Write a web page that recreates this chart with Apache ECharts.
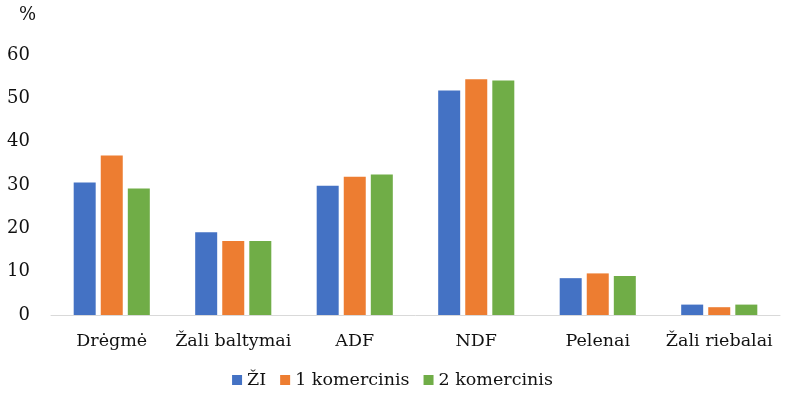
<!DOCTYPE html>
<html>
<head>
<meta charset="utf-8">
<script src="https://cdn.jsdelivr.net/npm/echarts@6/dist/echarts.min.js"></script>
<style>
  html, body { margin: 0; padding: 0; background: #fff; }
  #chart { width: 785px; height: 393px; }
</style>
</head>
<body>
<div id="chart"></div>
<script>
// categories and values
const categories = ["Drėgmė", "Žali baltymai", "ADF", "NDF", "Pelenai", "Žali riebalai"];
const seriesNames = ["ŽI", "1 komercinis", "2 komercinis"];
const ziValues = [30.6, 19.1, 29.8, 51.8, 8.5, 2.4];
const kom1Values = [36.8, 17.1, 31.9, 54.4, 9.6, 1.8];
const kom2Values = [29.2, 17.1, 32.4, 54.1, 9.0, 2.4];
const colors = ["#4472C4", "#ED7D31", "#70AD47"];

const font = "DejaVu Serif";
const chart = echarts.init(document.getElementById("chart"), null, { renderer: "canvas" });

const makeBar = (name, data, color) => ({
  name,
  type: "bar",
  data,
  barWidth: 22,
  barGap: "23%",
  itemStyle: { color },
});

chart.setOption({
  animation: false,
  title: {
    text: "%",
    left: 14,
    top: 1,
    textStyle: { fontFamily: font, fontSize: 18, fontWeight: "normal", color: "#111" },
  },
  legend: {
    data: seriesNames,
    bottom: -1,
    left: "center",
    itemWidth: 10,
    itemHeight: 10,
    itemGap: 14,
    icon: "rect",
    textStyle: { fontFamily: font, fontSize: 17.5, color: "#111" },
  },
  grid: { left: 51, right: 5, top: 55, bottom: 78 },
  xAxis: {
    type: "category",
    data: categories,
    axisLine: { lineStyle: { color: "#d9d9d9", width: 1 } },
    axisTick: { show: false },
    axisLabel: { interval: 0, fontFamily: font, fontSize: 17.5, color: "#111", margin: 17 },
  },
  yAxis: {
    type: "value",
    min: 0,
    max: 60,
    interval: 10,
    axisLine: { show: false },
    axisTick: { show: false },
    splitLine: { show: false },
    axisLabel: { fontFamily: font, fontSize: 18, color: "#111", margin: 21 },
  },
  series: [
    makeBar(seriesNames[0], ziValues, colors[0]),
    makeBar(seriesNames[1], kom1Values, colors[1]),
    makeBar(seriesNames[2], kom2Values, colors[2]),
  ],
});
</script>
</body>
</html>
